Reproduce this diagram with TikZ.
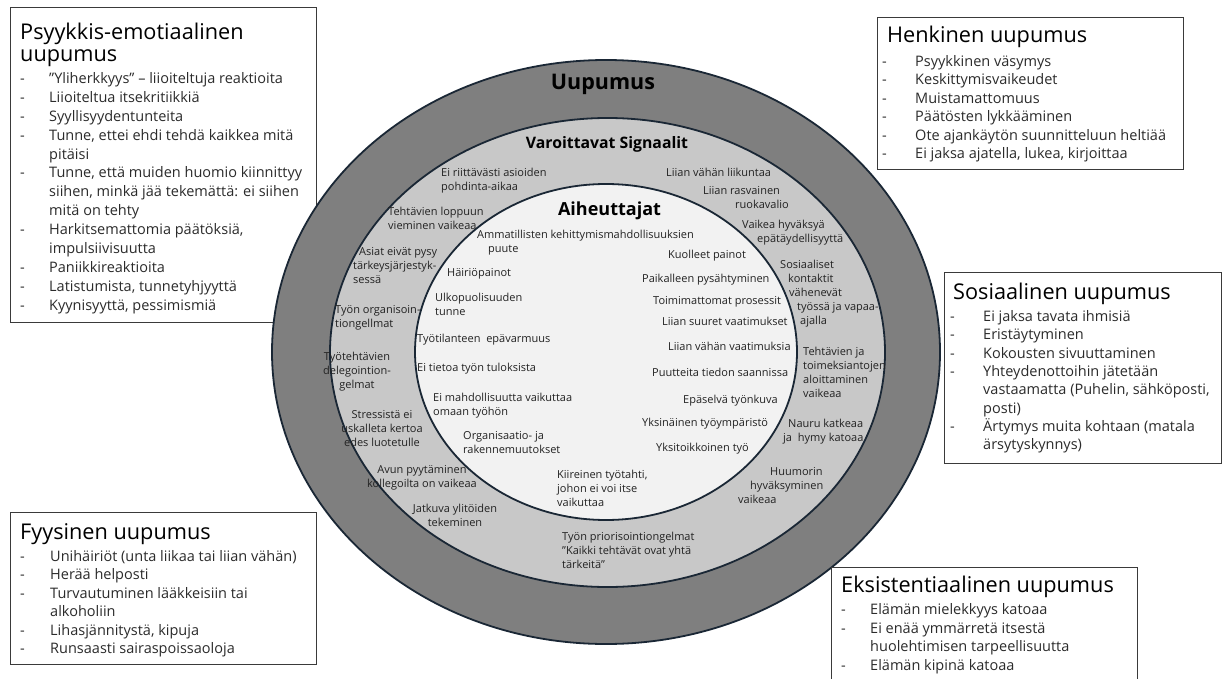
\documentclass[tikz,border=0pt]{standalone}
\usepackage{fontspec}
\setmainfont{Open Sans}
\usetikzlibrary{shapes.geometric}
\definecolor{outerc}{HTML}{7F7F7F}
\definecolor{midc}{HTML}{C8C8C8}
\definecolor{innerc}{HTML}{F2F2F2}
\definecolor{linec}{HTML}{1A2735}
\definecolor{boxc}{HTML}{3A3A3A}
\definecolor{itemc}{HTML}{2B2B2B}
\definecolor{ringc}{HTML}{222222}
\newcommand\mll[1]{\begin{tabular}[t]{@{}l@{}}#1\end{tabular}}
\newcommand\mlc[1]{\begin{tabular}[t]{@{}c@{}}#1\end{tabular}}
\newcommand\blist[6]{%
  \foreach \da/\tx [count=\ii] in {#6}{%
    \pgfmathsetmacro\yy{#4+(\ii-1)*#5}%
    \node[itm] (#1t\ii) at (#3,\yy) {\tx};%
    \ifnum\da=1 \node[itm] (#1d\ii) at (#2,\yy) {-};\fi
  }}
\tikzset{
  box/.style={draw=boxc, line width=1.1pt, fill=white, inner sep=0pt, anchor=north west},
  ring/.style={ellipse, draw=linec, line width=1.8pt, inner sep=0pt},
  ttl/.style={anchor=base west, inner sep=0pt, font=\fontsize{21.7}{25}\selectfont, text=black},
  itm/.style={anchor=base west, inner sep=0pt, font=\fontsize{14.5}{17}\selectfont, text=itemc},
  rt/.style={anchor=base west, inner sep=0pt, font=\fontsize{11}{14}\selectfont, text=ringc},
  rtc/.style={rt, anchor=base},
  hd/.style={anchor=base, inner sep=0pt, font=\bfseries, text=black}
}
\begin{document}
\begin{tikzpicture}[x=1pt,y=-1pt]
\path[use as bounding box, fill=white] (0,0) rectangle (1222,679);

% box 1 (under ellipse)
\node[box, minimum width=306pt, minimum height=315pt] (b1) at (10,7) {};
\node[ttl] (b1h1) at (20,40) {Psyykkis-emotiaalinen};
\node[ttl] (b1h2) at (20,62) {uupumus};
\blist{pa}{20}{49}{83.5}{18.9}{1/{”Yliherkkyys” – liioiteltuja reaktioita},1/Liioiteltua itsekritiikkiä,1/Syyllisyydentunteita,1/{Tunne, ettei ehdi tehdä kaikkea mitä},0/pitäisi,1/{Tunne, että muiden huomio kiinnittyy},0/{siihen, minkä jää tekemättä: ei siihen},0/mitä on tehty,1/{Harkitsemattomia päätöksiä,},0/impulsiivisuutta,1/Paniikkireaktioita,1/{Latistumista, tunnetyhjyyttä},1/{Kyynisyyttä, pessimismiä}}

% ellipses
\node[ring, fill=outerc, minimum width=668pt, minimum height=584pt] (outer) at (606,352) {};
\node[ring, fill=midc, minimum width=555pt, minimum height=469pt] (mid) at (607.5,352.5) {};
\node[ring, fill=innerc, minimum width=382pt, minimum height=336pt] (inner) at (606,352) {};

\node[hd, font=\bfseries\fontsize{21.5}{25}\selectfont] (tU) at (603,90) {Uupumus};
\node[hd, font=\bfseries\fontsize{15.8}{20}\selectfont] (tV) at (607,149) {Varoittavat Signaalit};
\node[hd, font=\bfseries\fontsize{18}{20}\selectfont] (tA) at (609.5,215) {Aiheuttajat};

% ring texts
\node[rt] (r1) at (441,176.5) {\mll{Ei riittävästi asioiden\\pohdinta-aikaa}};
\node[rt] (r2) at (388,215.5) {\mll{Tehtävien loppuun\\vieminen vaikeaa}};
\node[rt] (r3) at (353,255.5) {\mll{\hspace*{6pt}Asiat eivät pysy\\tärkeysjärjestyk-\\sessä}};
\node[rt] (r4) at (335,313.5) {\mll{Työn organisoin-\\tiongellmat}};
\node[rtc] (r5) at (357,360.5) {\mlc{Työtehtävien\\delegointion-\\gelmat}};
\node[rtc] (r6) at (382,418.5) {\mlc{Stressistä ei\\uskalleta kertoa\\edes luotetulle}};
\node[rtc] (r7) at (422,473.5) {\mlc{Avun pyytäminen\\kollegoilta on vaikeaa}};
\node[rtc] (r8) at (455,512.5) {\mlc{Jatkuva ylitöiden\\tekeminen}};
\node[rt] (r9) at (562,540.5) {\mll{Työn priorisointiongelmat\\"Kaikki tehtävät\ ovat yhtä\\tärkeitä"}};
\node[rt] (r10) at (666,176.5) {Liian vähän liikuntaa};
\node[rt] (r11) at (703,194.5) {\mll{Liian rasvainen\\\hspace*{32pt}ruokavalio}};
\node[rt] (r12) at (742,228.5) {\mll{Vaikea hyväksyä\\\hspace*{15pt}epätäydellisyyttä}};
\node[rt] (r13) at (780,268.5) {\mll{Sosiaaliset\\\hspace*{8pt}kontaktit\\\hspace*{9pt}vähenevät\\\hspace*{17pt}työssä ja vapaa-\\\hspace*{20pt}ajalla}};
\node[rt] (r14) at (803,355.5) {\mll{Tehtävien ja\\toimeksiantojen\\aloittaminen\\vaikeaa}};
\node[rt] (r15) at (783,427.5) {\mll{\hspace*{5pt}Nauru katkeaa\\ja\ \ hymy katoaa}};
\node[rt] (r16) at (738,475.5) {\mll{\hspace*{32pt}Huumorin\\\hspace*{12pt}hyväksyminen\\vaikeaa}};

% inner texts
\node[rt] (i1) at (477,238.5) {\mll{Ammatillisten kehittymismahdollisuuksien\\\hspace*{11pt}puute}};
\node[rt] (i2) at (447,276.5) {Häiriöpainot};
\node[rt] (i3) at (435,301.5) {\mll{Ulkopuolisuuden\\tunne}};
\node[rt] (i4) at (417,342.5) {Työtilanteen\ \ epävarmuus};
\node[rt] (i5) at (417,371.5) {Ei tietoa työn tuloksista};
\node[rt] (i6) at (433,401.5) {\mll{Ei mahdollisuutta vaikuttaa\\omaan työhön}};
\node[rt] (i7) at (463,439.5) {\mll{Organisaatio- ja\\rakennemuutokset}};
\node[rt] (i8) at (557,478.5) {\mll{Kiireinen työtahti,\\johon ei voi itse\\vaikuttaa}};
\node[rt] (i9) at (668,258.5) {Kuolleet painot};
\node[rt] (i10) at (642,282.5) {Paikalleen pysähtyminen};
\node[rt] (i11) at (653,304.5) {Toimimattomat prosessit};
\node[rt] (i12) at (662,325.5) {Liian suuret vaatimukset};
\node[rt] (i13) at (668,350.5) {Liian vähän vaatimuksia};
\node[rt] (i14) at (652,376.5) {Puutteita tiedon saannissa};
\node[rt] (i15) at (683,403.5) {Epäselvä työnkuva};
\node[rt] (i16) at (642,426.5) {Yksinäinen työympäristö};
\node[rt] (i17) at (656,451.5) {Yksitoikkoinen työ};

% box 2
\node[box, minimum width=306pt, minimum height=152pt] (b2) at (877,17) {};
\node[ttl] (b2h) at (887,43) {Henkinen uupumus};
\blist{he}{882}{915}{66.5}{18.4}{1/Psyykkinen väsymys,1/Keskittymisvaikeudet,1/Muistamattomuus,1/Päätösten lykkääminen,1/Ote ajankäytön suunnitteluun heltiää,1/{Ei jaksa ajatella, lukea, kirjoittaa}}

% box 3
\node[box, minimum width=277pt, minimum height=191pt] (b3) at (944,272) {};
\node[ttl] (b3h) at (953,299) {Sosiaalinen uupumus};
\blist{so}{950}{983}{321.5}{18.3}{1/Ei jaksa tavata ihmisiä,1/Eristäytyminen,1/Kokousten sivuuttaminen,1/Yhteydenottoihin jätetään,0/{vastaamatta (Puhelin, sähköposti,},0/posti),1/Ärtymys muita kohtaan (matala,0/ärsytyskynnys)}

% box 4
\node[box, minimum width=306pt, minimum height=152pt] (b4) at (10,512) {};
\node[ttl] (b4h) at (20,539) {Fyysinen uupumus};
\blist{fy}{20}{50}{561.5}{18.4}{1/Unihäiriöt (unta liikaa tai liian vähän),1/Herää helposti,1/Turvautuminen lääkkeisiin tai,0/alkoholiin,1/{Lihasjännitystä, kipuja},1/Runsaasti sairaspoissaoloja}

% box 5
\node[box, minimum width=306pt, minimum height=120pt] (b5) at (831,567) {};
\node[ttl] (b5h) at (841,592) {Eksistentiaalinen uupumus};
\blist{ek}{841}{870}{614.5}{18.7}{1/Elämän mielekkyys katoaa,1/Ei enää ymmärretä itsestä,0/huolehtimisen tarpeellisuutta,1/Elämän kipinä katoaa}
\end{tikzpicture}
\end{document}
